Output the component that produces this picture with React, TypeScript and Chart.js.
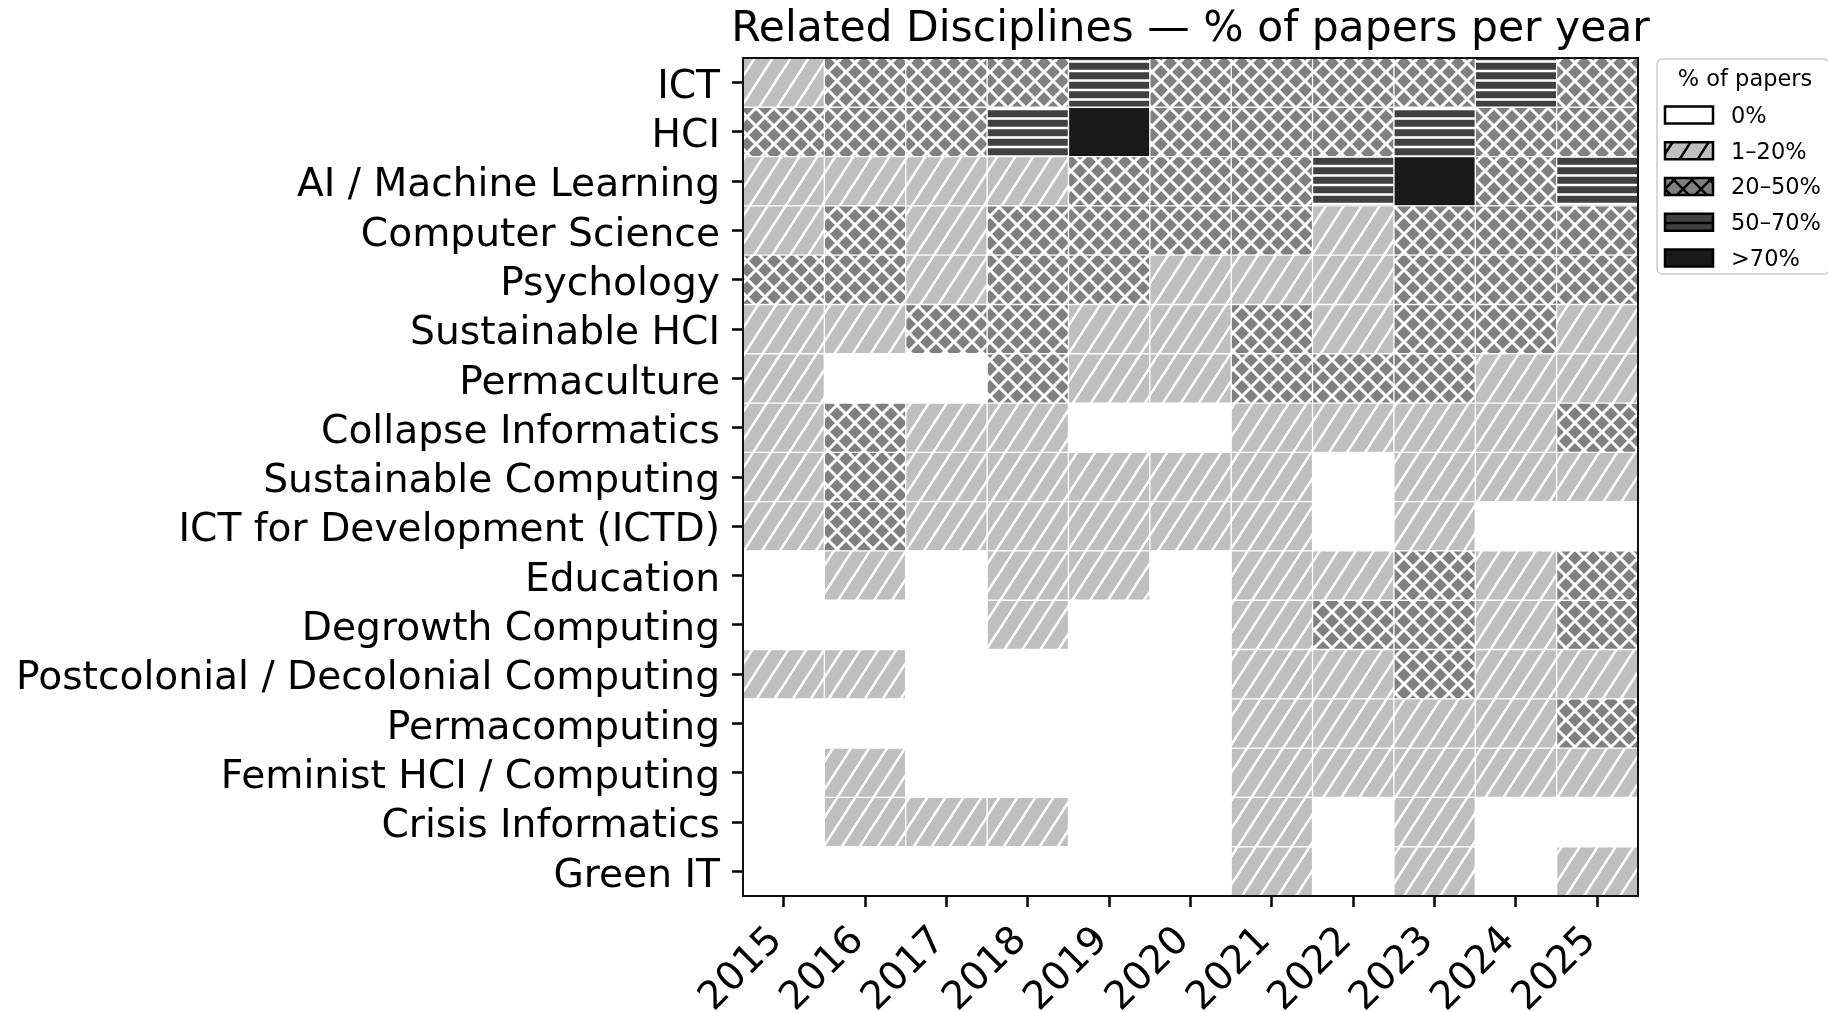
import React, { useEffect, useRef } from "react";
import { Chart, registerables } from "chart.js";

Chart.register(...registerables);

const FONT = '"DejaVu Sans", "Liberation Sans", sans-serif';

const disciplines = [
  "ICT",
  "HCI",
  "AI / Machine Learning",
  "Computer Science",
  "Psychology",
  "Sustainable HCI",
  "Permaculture",
  "Collapse Informatics",
  "Sustainable Computing",
  "ICT for Development (ICTD)",
  "Education",
  "Degrowth Computing",
  "Postcolonial / Decolonial Computing",
  "Permacomputing",
  "Feminist HCI / Computing",
  "Crisis Informatics",
  "Green IT",
];

const years = ["2015", "2016", "2017", "2018", "2019", "2020", "2021", "2022", "2023", "2024", "2025"];

const levelLabels = ["0%", "1–20%", "20–50%", "50–70%", ">70%"];

// level per year (0: 0%, 1: 1–20%, 2: 20–50%, 3: 50–70%, 4: >70%)
const ict = [1, 2, 2, 2, 3, 2, 2, 2, 2, 3, 2];
const hci = [2, 2, 2, 3, 4, 2, 2, 2, 3, 2, 2];
const aiMl = [1, 1, 1, 1, 2, 2, 2, 3, 4, 2, 3];
const computerScience = [1, 2, 1, 2, 2, 2, 2, 1, 2, 2, 2];
const psychology = [2, 2, 1, 2, 2, 1, 1, 1, 2, 2, 2];
const sustainableHci = [1, 1, 2, 2, 1, 1, 2, 1, 2, 2, 1];
const permaculture = [1, 0, 0, 2, 1, 1, 2, 2, 2, 1, 1];
const collapseInformatics = [1, 2, 1, 1, 0, 0, 1, 1, 1, 1, 2];
const sustainableComputing = [1, 2, 1, 1, 1, 1, 1, 0, 1, 1, 1];
const ictd = [1, 2, 1, 1, 1, 1, 1, 0, 1, 0, 0];
const education = [0, 1, 0, 1, 1, 0, 1, 1, 2, 1, 2];
const degrowthComputing = [0, 0, 0, 1, 0, 0, 1, 2, 2, 1, 2];
const postcolonial = [1, 1, 0, 0, 0, 0, 1, 1, 2, 1, 1];
const permacomputing = [0, 0, 0, 0, 0, 0, 1, 1, 1, 1, 2];
const feministHci = [0, 1, 0, 0, 0, 0, 1, 1, 1, 1, 1];
const crisisInformatics = [0, 1, 1, 1, 0, 0, 1, 0, 1, 0, 0];
const greenIt = [0, 0, 0, 0, 0, 0, 1, 0, 1, 0, 1];

const levels = [
  ict, hci, aiMl, computerScience, psychology, sustainableHci, permaculture,
  collapseInformatics, sustainableComputing, ictd, education, degrowthComputing,
  postcolonial, permacomputing, feministHci, crisisInformatics, greenIt,
];

const levelColors = ["#ffffff", "#bfbfbf", "#808080", "#404040", "#1a1a1a"];
const levelHatch: (string | null)[] = [null, "diag", "cross", "horiz", null];

function makePattern(bg: string, kind: string | null, line: string, lw: number): any {
  if (!kind) return bg;
  const c = document.createElement("canvas");
  let w = 18, h = 18;
  if (kind === "horiz") { w = 8; h = 19; }
  if (kind === "diag") { w = 18; h = 28; }
  c.width = w;
  c.height = h;
  const g = c.getContext("2d")!;
  g.fillStyle = bg;
  g.fillRect(0, 0, w, h);
  g.strokeStyle = line;
  g.lineWidth = lw;
  g.beginPath();
  if (kind === "horiz") {
    g.moveTo(-1, 4.5);
    g.lineTo(w + 1, 4.5);
    g.moveTo(-1, 14);
    g.lineTo(w + 1, 14);
  } else {
    const ex = w / h;
    for (let k = -1; k <= 1; k++) {
      g.moveTo(k * w - ex * 2, h + 2);
      g.lineTo(k * w + w + ex * 2, -2);
    }
    if (kind === "cross") {
      for (let k = -1; k <= 1; k++) {
        g.moveTo(k * w - 2, -2);
        g.lineTo(k * w + w + 2, h + 2);
      }
    }
  }
  g.stroke();
  return g.createPattern(c, "repeat");
}

export default function App() {
  const ref = useRef<HTMLCanvasElement | null>(null);

  useEffect(() => {
    const canvas = ref.current;
    if (!canvas) return;

    const cellFills = levelColors.map((c, i) =>
      makePattern(c, levelHatch[i], "#ffffff", i === 2 ? 3 : 2.5)
    );
    const legendFills = levelColors.map((c, i) =>
      makePattern(c, levelHatch[i], "#000000", 2.5)
    );

    const datasets = years.map((y, yi) => ({
      label: y,
      data: disciplines.map(() => [yi, yi + 1]),
      backgroundColor: disciplines.map((_, r) => cellFills[levels[r][yi]]),
      borderColor: "#ffffff",
      borderWidth: 1,
      borderSkipped: false,
      grouped: false,
      barPercentage: 1,
      categoryPercentage: 1,
    }));

    const decor = {
      id: "decor",
      afterDatasetsDraw(chart: any) {
        const { ctx, chartArea } = chart;
        ctx.save();
        ctx.strokeStyle = "#111111";
        ctx.lineWidth = 2;
        ctx.strokeRect(chartArea.left, chartArea.top, chartArea.right - chartArea.left, chartArea.bottom - chartArea.top);
        ctx.restore();
      },
      afterDraw(chart: any) {
        const { ctx, chartArea } = chart;
        ctx.save();
        // title
        ctx.fillStyle = "#000000";
        ctx.font = `42.5px ${FONT}`;
        ctx.textAlign = "center";
        ctx.textBaseline = "alphabetic";
        ctx.fillText("Related Disciplines — % of papers per year", (chartArea.left + chartArea.right) / 2, 40.5);

        // legend
        const lx = 1657, ly = 59, lw = 172, lh = 215;
        ctx.beginPath();
        ctx.roundRect(lx, ly, lw, lh, 5);
        ctx.fillStyle = "rgba(255,255,255,0.85)";
        ctx.fill();
        ctx.strokeStyle = "#cccccc";
        ctx.lineWidth = 1.5;
        ctx.stroke();

        ctx.fillStyle = "#000000";
        ctx.font = `22.5px ${FONT}`;
        ctx.textAlign = "center";
        ctx.textBaseline = "middle";
        ctx.fillText("% of papers", 1745, 80);

        ctx.textAlign = "left";
        levelLabels.forEach((lab, i) => {
          const cy = 115 + i * 35.75;
          ctx.fillStyle = legendFills[i];
          ctx.fillRect(1665, cy - 8.5, 48, 17);
          ctx.strokeStyle = "#000000";
          ctx.lineWidth = 2.5;
          ctx.strokeRect(1665, cy - 8.5, 48, 17);
          ctx.fillStyle = "#000000";
          ctx.fillText(lab, 1731, cy + 2);
        });
        ctx.restore();
      },
    };

    const chart = new Chart(canvas, {
      type: "bar",
      data: { labels: disciplines, datasets: datasets as any },
      options: {
        indexAxis: "y",
        animation: false,
        responsive: false,
        devicePixelRatio: 1,
        events: [],
        layout: { padding: { left: 0, right: 190, top: 58, bottom: 0 } },
        plugins: {
          legend: { display: false },
          tooltip: { enabled: false },
          title: { display: false },
        },
        scales: {
          y: {
            type: "category",
            offset: true,
            grid: {
              display: true,
              offset: false,
              drawOnChartArea: false,
              drawTicks: true,
              tickLength: 11,
              tickWidth: 2.5,
              tickColor: "#000000",
              color: "#000000",
            },
            border: { display: false },
            ticks: {
              autoSkip: false,
              color: "#000000",
              padding: 12,
              labelOffset: 5,
              font: { family: FONT, size: 39.2 },
            },
            afterFit: (s: any) => {
              s.width = 743;
            },
          },
          x: {
            type: "linear",
            min: 0,
            max: years.length,
            stacked: false,
            grid: {
              display: true,
              drawOnChartArea: false,
              drawTicks: true,
              tickLength: 11,
              tickWidth: 2.5,
              tickColor: "#000000",
              color: "#000000",
            },
            border: { display: false },
            afterBuildTicks: (s: any) => {
              s.ticks = years.map((_, i) => ({ value: i + 0.5 }));
            },
            ticks: {
              autoSkip: false,
              minRotation: 45,
              maxRotation: 45,
              labelOffset: -7,
              padding: 11,
              color: "#000000",
              font: { family: FONT, size: 39 },
              callback: (v: any) => years[Math.round(Number(v) - 0.5)],
            },
            afterFit: (s: any) => {
              s.height = 116;
            },
          },
        },
      } as any,
      plugins: [decor],
    });

    return () => chart.destroy();
  }, []);

  return (
    <div style={{ position: "absolute", left: 0, top: 0, width: 1828, height: 1012, background: "#ffffff" }}>
      <canvas ref={ref} width={1828} height={1012} style={{ display: "block" }} />
    </div>
  );
}
